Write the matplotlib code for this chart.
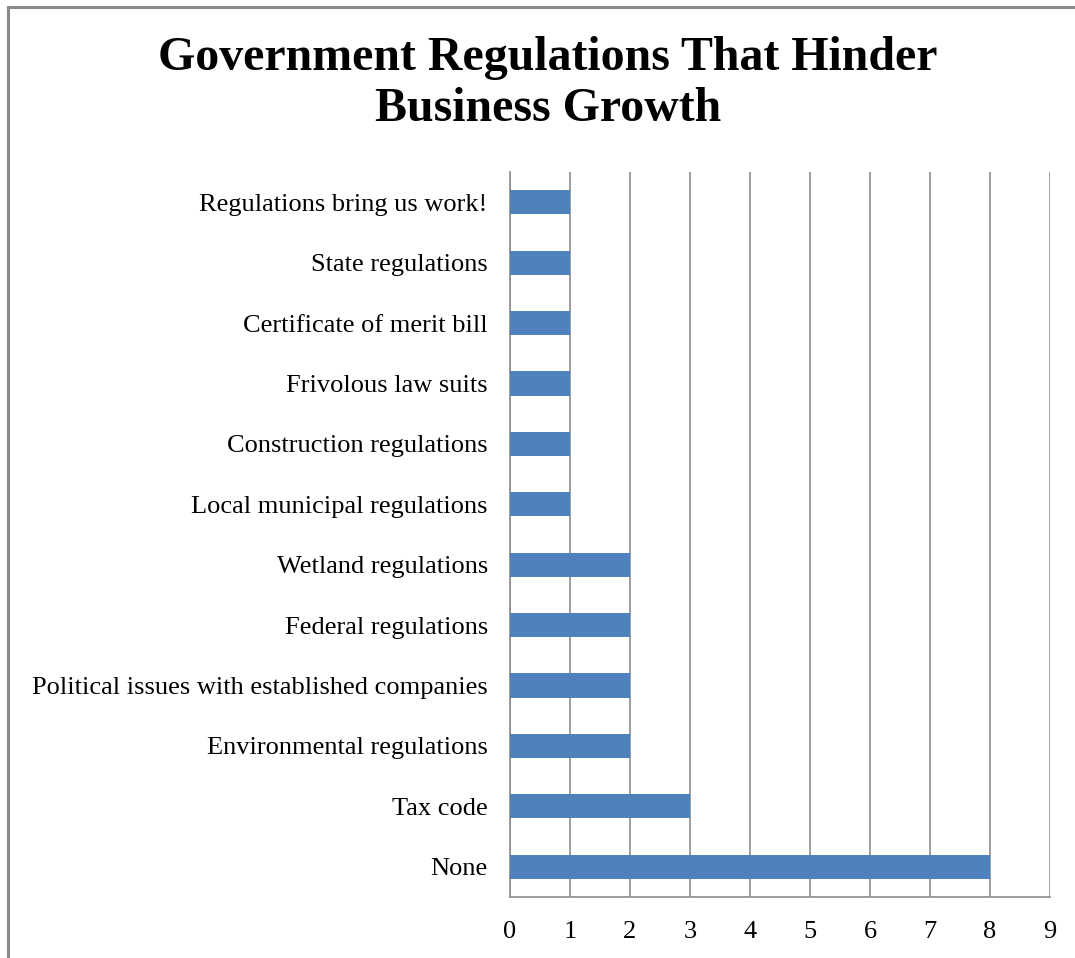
import matplotlib
matplotlib.use("Agg")
import matplotlib.pyplot as plt
from matplotlib.patches import Rectangle

# categories listed bottom to top
categories = [
    "None",
    "Tax code",
    "Environmental regulations",
    "Political issues with established companies",
    "Federal regulations",
    "Wetland regulations",
    "Local municipal regulations",
    "Construction regulations",
    "Frivolous law suits",
    "Certificate of merit bill",
    "State regulations",
    "Regulations bring us work!",
]
counts = [8, 3, 2, 2, 2, 2, 1, 1, 1, 1, 1, 1]
x_ticks = list(range(0, 10))

plt.rcParams['font.family'] = ['Liberation Serif', 'DejaVu Serif']

fig = plt.figure(figsize=(10.75, 9.58), dpi=100)
ax = fig.add_axes([0.4744, 0.0637, 0.5023, 0.7568])

grid_col = '#8c8c8c'
ax.barh(range(len(categories)), counts, height=0.4, color='#4F81BD', zorder=3)

ax.set_xlim(0, 9)
ax.set_ylim(-0.5, len(categories) - 0.5)
ax.set_xticks(x_ticks)
ax.set_yticks(range(len(categories)))
ax.set_yticklabels(categories)
ax.xaxis.grid(True, color=grid_col, linewidth=1.2, zorder=0)
ax.tick_params(axis='both', length=0, labelsize=19, colors='black')
ax.tick_params(axis='y', pad=16)
ax.tick_params(axis='x', pad=17)

for side in ['top', 'right']:
    ax.spines[side].set_visible(False)
for side in ['left', 'bottom']:
    ax.spines[side].set_color(grid_col)
    ax.spines[side].set_linewidth(1.2)

fig.text(0.51, 0.962, "Government Regulations That Hinder\nBusiness Growth",
         ha='center', va='top', fontsize=34.5, fontweight='bold', linespacing=1.2)

# outer frame, cut off at right and bottom like the source
fig.patches.append(Rectangle((8 / 1075, -0.05), 1.1, 1.05 - 7 / 958, transform=fig.transFigure,
                             fill=False, edgecolor='#898989', linewidth=2.2))

fig.savefig("out.png", dpi=100)
